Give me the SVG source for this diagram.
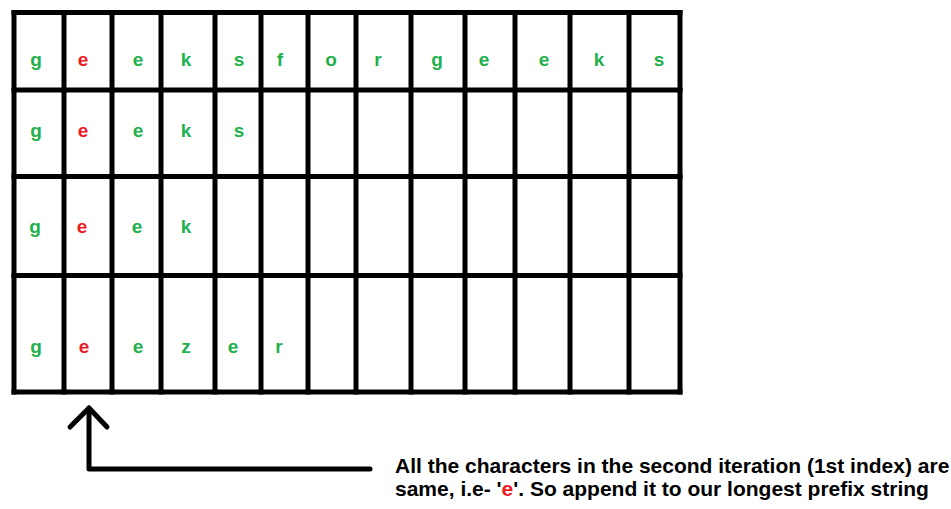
<svg xmlns="http://www.w3.org/2000/svg" width="951" height="509" viewBox="0 0 951 509">
<style>
.grid line{stroke:#000;stroke-width:5;stroke-linecap:square}
.c{font-family:"Liberation Sans",Arial,sans-serif;font-weight:bold;font-size:19px;text-anchor:middle;fill:#22b14c}
.r{fill:#ed1c24}
.note{font-family:"Liberation Sans",Arial,sans-serif;font-weight:bold;font-size:21px;fill:#000}
.arrow{stroke:#000;stroke-width:5;fill:none;stroke-linecap:round;stroke-linejoin:round}
</style>
<rect width="951" height="509" fill="#fff"/>
<g id="grid" class="grid">
<line x1="14" y1="12.5" x2="680" y2="12.5"/>
<line x1="14" y1="90" x2="680" y2="90"/>
<line x1="14" y1="176.5" x2="680" y2="176.5"/>
<line x1="14" y1="275.5" x2="680" y2="275.5"/>
<line x1="14" y1="392" x2="680" y2="392"/>
<line x1="14" y1="12.5" x2="14" y2="392"/>
<line x1="64" y1="12.5" x2="64" y2="392"/>
<line x1="112" y1="12.5" x2="112" y2="392"/>
<line x1="161" y1="12.5" x2="161" y2="392"/>
<line x1="215" y1="12.5" x2="215" y2="392"/>
<line x1="261" y1="12.5" x2="261" y2="392"/>
<line x1="308" y1="12.5" x2="308" y2="392"/>
<line x1="356" y1="12.5" x2="356" y2="392"/>
<line x1="411" y1="12.5" x2="411" y2="392"/>
<line x1="465" y1="12.5" x2="465" y2="392"/>
<line x1="515" y1="12.5" x2="515" y2="392"/>
<line x1="570" y1="12.5" x2="570" y2="392"/>
<line x1="629" y1="12.5" x2="629" y2="392"/>
<line x1="680" y1="12.5" x2="680" y2="392"/>
</g>
<g id="row1">
<text class="c" x="36" y="66">g</text><text class="c r" x="83" y="66">e</text><text class="c" x="138" y="66">e</text><text class="c" x="186" y="66">k</text><text class="c" x="239" y="66">s</text><text class="c" x="280" y="66">f</text><text class="c" x="331" y="66">o</text><text class="c" x="378" y="66">r</text><text class="c" x="437" y="66">g</text><text class="c" x="484" y="66">e</text><text class="c" x="544" y="66">e</text><text class="c" x="599" y="66">k</text><text class="c" x="659" y="66">s</text>
</g>
<g id="row2">
<text class="c" x="36" y="137">g</text><text class="c r" x="83" y="137">e</text><text class="c" x="138" y="137">e</text><text class="c" x="186" y="137">k</text><text class="c" x="239" y="137">s</text>
</g>
<g id="row3">
<text class="c" x="35" y="233">g</text><text class="c r" x="82" y="233">e</text><text class="c" x="137" y="233">e</text><text class="c" x="186" y="233">k</text>
</g>
<g id="row4">
<text class="c" x="36" y="353">g</text><text class="c r" x="84" y="353">e</text><text class="c" x="138" y="353">e</text><text class="c" x="186" y="353">z</text><text class="c" x="233" y="353">e</text><text class="c" x="279" y="353">r</text>
</g>
<g id="connectors">
<polyline class="arrow" points="370,469 89,469 89,408"/>
<polyline class="arrow" points="70,427 89,408 107,427"/>
</g>
<g id="note">
<text class="note" x="395" y="473">All the characters in the second iteration (1st index) are</text>
<text class="note" x="395" y="496">same, i.e- '<tspan fill="#ed1c24">e</tspan>'. So append it to our longest prefix string</text>
</g>
</svg>
